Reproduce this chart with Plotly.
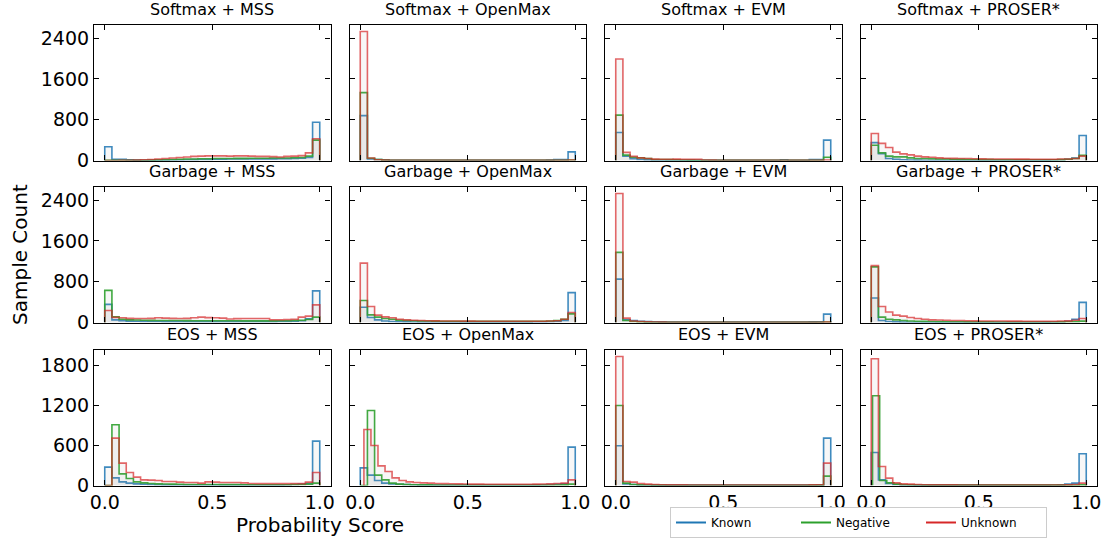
import numpy as np
import plotly.graph_objects as go

# ---------------- data (counts per bin, 30 bins over [0,1]) ----------------
PANEL_TITLES = ["Softmax + MSS", "Softmax + OpenMax", "Softmax + EVM", "Softmax + PROSER*",
                "Garbage + MSS", "Garbage + OpenMax", "Garbage + EVM", "Garbage + PROSER*",
                "EOS + MSS", "EOS + OpenMax", "EOS + EVM", "EOS + PROSER*"]
SERIES = ["Known", "Negative", "Unknown"]

SOFTMAX_MSS_KNOWN = [270, 25, 25, 15, 8, 5, 5, 6, 8, 10, 12, 15, 18, 20, 22, 25, 25, 28, 30, 30, 30, 30, 32, 32, 35, 35, 40, 45, 60, 750]
SOFTMAX_MSS_NEGATIVE = [5, 3, 3, 3, 3, 5, 8, 12, 15, 20, 25, 30, 30, 35, 35, 38, 40, 40, 42, 42, 45, 45, 45, 48, 50, 50, 55, 60, 85, 400]
SOFTMAX_MSS_UNKNOWN = [0, 0, 2, 5, 8, 15, 20, 30, 40, 50, 60, 70, 80, 85, 90, 90, 90, 85, 90, 90, 85, 80, 80, 75, 70, 80, 85, 95, 150, 425]

SOFTMAX_OPENMAX_KNOWN = [880, 30, 20, 15, 5, 3, 2, 2, 2, 2, 2, 2, 2, 2, 2, 2, 2, 2, 2, 2, 2, 3, 3, 3, 4, 5, 8, 20, 20, 170]
SOFTMAX_OPENMAX_NEGATIVE = [1330, 45, 20, 8, 5, 3, 2, 2, 2, 2, 2, 2, 2, 2, 2, 2, 2, 2, 2, 2, 2, 2, 2, 2, 2, 2, 2, 3, 3, 10]
SOFTMAX_OPENMAX_UNKNOWN = [2530, 50, 15, 8, 5, 3, 2, 2, 2, 2, 2, 2, 2, 2, 2, 2, 2, 2, 2, 2, 2, 2, 2, 2, 2, 2, 2, 3, 3, 10]

SOFTMAX_EVM_KNOWN = [550, 85, 35, 20, 12, 8, 6, 5, 4, 3, 3, 3, 3, 3, 3, 3, 3, 3, 3, 3, 3, 3, 3, 15, 5, 3, 3, 20, 20, 400]
SOFTMAX_EVM_NEGATIVE = [890, 105, 65, 52, 40, 20, 20, 18, 15, 10, 8, 6, 5, 4, 4, 3, 3, 3, 3, 3, 3, 3, 3, 3, 3, 3, 3, 5, 5, 65]
SOFTMAX_EVM_UNKNOWN = [1990, 160, 80, 52, 40, 26, 25, 25, 26, 25, 25, 25, 10, 8, 6, 5, 5, 5, 5, 5, 5, 5, 5, 5, 5, 5, 5, 5, 5, 10]

SOFTMAX_PROSER_KNOWN = [350, 135, 40, 25, 15, 10, 8, 6, 5, 5, 5, 5, 5, 5, 5, 5, 5, 5, 5, 5, 5, 5, 5, 5, 8, 10, 15, 25, 50, 490]
SOFTMAX_PROSER_NEGATIVE = [300, 150, 85, 72, 72, 52, 40, 40, 33, 30, 28, 25, 22, 20, 20, 18, 18, 16, 16, 15, 15, 15, 15, 15, 15, 15, 18, 25, 40, 100]
SOFTMAX_PROSER_UNKNOWN = [530, 335, 255, 165, 130, 110, 85, 72, 65, 52, 45, 42, 40, 38, 35, 32, 30, 30, 28, 28, 26, 26, 25, 25, 25, 25, 28, 30, 40, 85]

GARBAGE_MSS_KNOWN = [355, 52, 33, 26, 24, 22, 20, 20, 18, 18, 18, 18, 18, 18, 18, 18, 18, 18, 18, 18, 18, 18, 18, 18, 20, 22, 25, 35, 72, 620]
GARBAGE_MSS_NEGATIVE = [630, 110, 65, 52, 48, 45, 42, 40, 40, 38, 38, 36, 35, 35, 35, 34, 34, 33, 33, 32, 32, 32, 32, 32, 33, 35, 38, 45, 60, 105]
GARBAGE_MSS_UNKNOWN = [235, 100, 92, 80, 78, 78, 80, 92, 85, 80, 78, 80, 92, 105, 95, 92, 85, 70, 75, 78, 78, 78, 78, 55, 55, 60, 65, 105, 125, 345]

GARBAGE_OPENMAX_KNOWN = [300, 98, 52, 30, 20, 15, 12, 10, 8, 8, 8, 8, 8, 8, 8, 8, 8, 8, 8, 8, 8, 8, 8, 8, 10, 12, 15, 20, 40, 585]
GARBAGE_OPENMAX_NEGATIVE = [430, 150, 105, 78, 65, 45, 40, 35, 30, 28, 26, 25, 24, 24, 23, 22, 22, 22, 22, 22, 22, 22, 22, 22, 24, 25, 30, 40, 65, 170]
GARBAGE_OPENMAX_UNKNOWN = [1165, 315, 145, 110, 92, 65, 52, 45, 40, 35, 32, 30, 28, 28, 26, 26, 25, 25, 25, 25, 25, 25, 25, 25, 25, 25, 28, 35, 65, 195]

GARBAGE_EVM_KNOWN = [850, 52, 40, 25, 18, 15, 12, 10, 10, 10, 10, 10, 10, 10, 10, 10, 10, 10, 10, 10, 10, 10, 10, 10, 10, 10, 10, 12, 15, 165]
GARBAGE_EVM_NEGATIVE = [1375, 40, 20, 12, 8, 6, 5, 5, 4, 4, 4, 4, 4, 4, 4, 4, 4, 4, 4, 4, 4, 4, 4, 4, 4, 4, 4, 4, 5, 10]
GARBAGE_EVM_UNKNOWN = [2530, 85, 30, 20, 15, 10, 8, 6, 5, 5, 5, 5, 5, 5, 5, 5, 5, 5, 5, 5, 5, 5, 5, 5, 5, 5, 5, 5, 5, 8]

GARBAGE_PROSER_KNOWN = [480, 40, 20, 12, 8, 6, 5, 5, 4, 4, 4, 4, 4, 4, 4, 4, 4, 4, 4, 4, 4, 4, 5, 6, 8, 10, 15, 25, 65, 395]
GARBAGE_PROSER_NEGATIVE = [1090, 105, 65, 52, 40, 30, 25, 22, 20, 18, 16, 15, 14, 13, 12, 12, 12, 11, 11, 11, 10, 10, 10, 10, 10, 10, 12, 14, 18, 26]
GARBAGE_PROSER_UNKNOWN = [1115, 315, 205, 145, 125, 98, 78, 65, 52, 48, 45, 40, 38, 35, 32, 30, 30, 28, 28, 26, 26, 25, 25, 25, 25, 25, 28, 32, 45, 78]

EOS_MSS_KNOWN = [275, 115, 55, 35, 25, 20, 15, 12, 10, 10, 10, 10, 10, 10, 10, 10, 10, 10, 10, 10, 10, 10, 10, 10, 10, 12, 15, 20, 30, 665]
EOS_MSS_NEGATIVE = [0, 910, 175, 105, 55, 40, 30, 25, 22, 20, 18, 16, 15, 15, 14, 14, 13, 13, 13, 12, 12, 12, 12, 12, 12, 12, 14, 16, 20, 35]
EOS_MSS_UNKNOWN = [0, 710, 335, 195, 125, 85, 80, 75, 60, 60, 50, 45, 45, 35, 55, 50, 45, 45, 45, 40, 30, 28, 28, 28, 28, 28, 28, 28, 50, 195]

EOS_OPENMAX_KNOWN = [265, 155, 75, 35, 25, 18, 15, 12, 10, 10, 8, 8, 8, 8, 8, 8, 8, 8, 8, 8, 8, 8, 8, 8, 10, 12, 15, 18, 25, 575]
EOS_OPENMAX_NEGATIVE = [0, 1125, 155, 85, 35, 20, 15, 12, 10, 10, 8, 8, 8, 8, 8, 8, 8, 8, 8, 8, 8, 8, 8, 8, 8, 8, 8, 8, 10, 20]
EOS_OPENMAX_UNKNOWN = [840, 600, 295, 210, 115, 75, 55, 45, 40, 35, 30, 28, 26, 24, 22, 20, 20, 18, 18, 18, 18, 18, 18, 18, 20, 22, 25, 30, 35, 85]

EOS_EVM_KNOWN = [595, 25, 15, 10, 8, 6, 5, 5, 5, 5, 5, 5, 5, 5, 5, 5, 5, 5, 5, 5, 5, 5, 5, 5, 5, 5, 5, 8, 10, 710]
EOS_EVM_NEGATIVE = [1200, 35, 15, 10, 8, 6, 5, 4, 4, 4, 4, 4, 4, 4, 4, 4, 4, 4, 4, 4, 4, 4, 4, 4, 4, 4, 4, 5, 6, 140]
EOS_EVM_UNKNOWN = [1935, 60, 50, 30, 20, 15, 12, 10, 10, 10, 8, 8, 8, 8, 8, 8, 8, 8, 8, 8, 8, 8, 8, 8, 8, 8, 8, 10, 12, 335]

EOS_PROSER_KNOWN = [495, 85, 30, 15, 10, 8, 6, 5, 5, 5, 5, 5, 5, 5, 5, 5, 5, 5, 5, 5, 5, 5, 5, 5, 6, 8, 10, 20, 35, 475]
EOS_PROSER_NEGATIVE = [1345, 75, 40, 20, 12, 10, 8, 6, 5, 5, 5, 5, 5, 5, 5, 5, 5, 5, 5, 5, 5, 5, 5, 5, 5, 5, 5, 5, 5, 10]
EOS_PROSER_UNKNOWN = [1900, 285, 110, 40, 25, 20, 15, 12, 10, 10, 10, 10, 8, 8, 8, 8, 8, 8, 8, 8, 8, 8, 8, 8, 8, 8, 8, 10, 15, 35]

# lowest score of a series (histogram range starts there; default 0.0)
BIN_LO = {(9, "Unknown"): 0.017, (11, "Negative"): 0.006}

PANELS = [
    (SOFTMAX_MSS_KNOWN, SOFTMAX_MSS_NEGATIVE, SOFTMAX_MSS_UNKNOWN),
    (SOFTMAX_OPENMAX_KNOWN, SOFTMAX_OPENMAX_NEGATIVE, SOFTMAX_OPENMAX_UNKNOWN),
    (SOFTMAX_EVM_KNOWN, SOFTMAX_EVM_NEGATIVE, SOFTMAX_EVM_UNKNOWN),
    (SOFTMAX_PROSER_KNOWN, SOFTMAX_PROSER_NEGATIVE, SOFTMAX_PROSER_UNKNOWN),
    (GARBAGE_MSS_KNOWN, GARBAGE_MSS_NEGATIVE, GARBAGE_MSS_UNKNOWN),
    (GARBAGE_OPENMAX_KNOWN, GARBAGE_OPENMAX_NEGATIVE, GARBAGE_OPENMAX_UNKNOWN),
    (GARBAGE_EVM_KNOWN, GARBAGE_EVM_NEGATIVE, GARBAGE_EVM_UNKNOWN),
    (GARBAGE_PROSER_KNOWN, GARBAGE_PROSER_NEGATIVE, GARBAGE_PROSER_UNKNOWN),
    (EOS_MSS_KNOWN, EOS_MSS_NEGATIVE, EOS_MSS_UNKNOWN),
    (EOS_OPENMAX_KNOWN, EOS_OPENMAX_NEGATIVE, EOS_OPENMAX_UNKNOWN),
    (EOS_EVM_KNOWN, EOS_EVM_NEGATIVE, EOS_EVM_UNKNOWN),
    (EOS_PROSER_KNOWN, EOS_PROSER_NEGATIVE, EOS_PROSER_UNKNOWN),
]

ROW_YTICKS = [[0, 800, 1600, 2400], [0, 800, 1600, 2400], [0, 600, 1200, 1800]]
XTICKS = [0.0, 0.5, 1.0]
XTICK_LABELS = ["0.0", "0.5", "1.0"]

# ---------------- style ----------------
W, H = 1108, 541
FONT = "DejaVu Sans"
LINE_COLORS = {"Known": "rgba(31,119,180,0.85)",
               "Negative": "rgba(44,160,44,0.9)",
               "Unknown": "rgba(214,39,40,0.7)"}
LEGEND_COLORS = {"Known": "#1f77b4", "Negative": "#2ca02c", "Unknown": "#d62728"}
FILL = "rgba(140,140,140,0.07)"

COL_LEFT = [94, 349.5, 605, 860.5]
COL_W = 236.5
ROW_TOP = [25, 187, 350]
ROW_H = 135.5

fig = go.Figure()
layout = {}

for p, counts in enumerate(PANELS):
    r, c = divmod(p, 4)
    ax = p + 1
    xname = "x" if ax == 1 else f"x{ax}"
    yname = "y" if ax == 1 else f"y{ax}"
    for name, cnt in zip(SERIES, counts):
        cnt = np.asarray(cnt, dtype=float)
        lo = BIN_LO.get((p, name), 0.0)
        edges = np.linspace(lo, 1.0, len(cnt) + 1)
        xs = np.concatenate([[edges[0]], edges[:-1], [edges[-1], edges[-1]]])
        ys = np.concatenate([[0], cnt, [cnt[-1], 0]])
        fig.add_trace(go.Scatter(
            x=xs, y=ys, mode="lines", line=dict(shape="hv", color=LINE_COLORS[name], width=1.6),
            fill="tozeroy", fillcolor=FILL, showlegend=False, hoverinfo="skip",
            xaxis=xname, yaxis=yname))

    x0 = COL_LEFT[c] / W
    x1 = (COL_LEFT[c] + COL_W) / W
    y1 = 1 - ROW_TOP[r] / H
    y0 = 1 - (ROW_TOP[r] + ROW_H) / H
    ymax = max(max(v) for pp in PANELS[r * 4:(r + 1) * 4] for v in pp) if r == 2 else \
        max(max(v) for pp in PANELS[0:8] for v in pp)
    common = dict(showline=True, linecolor="black", linewidth=1.1, mirror="allticks",
                  ticks="inside", ticklen=5, tickwidth=1.1, tickcolor="black",
                  showgrid=False, zeroline=False, automargin=False,
                  tickfont=dict(family=FONT, size=19, color="black"))
    layout["xaxis" if ax == 1 else f"xaxis{ax}"] = dict(
        domain=[x0, x1], anchor=yname, range=[-0.05, 1.05],
        tickvals=XTICKS, ticktext=XTICK_LABELS, showticklabels=(r == 2), **common)
    layout["yaxis" if ax == 1 else f"yaxis{ax}"] = dict(
        domain=[y0, y1], anchor=xname, range=[0, ymax * 1.05],
        tickvals=ROW_YTICKS[r], showticklabels=(c == 0), **common)

annotations = []
for p, t in enumerate(PANEL_TITLES):
    r, c = divmod(p, 4)
    annotations.append(dict(text=t, x=(COL_LEFT[c] + COL_W / 2) / W, y=1 - (ROW_TOP[r] - 4) / H,
                            xref="paper", yref="paper", xanchor="center", yanchor="bottom",
                            showarrow=False, font=dict(family=FONT, size=16, color="black")))
annotations.append(dict(text="Sample Count", x=20 / W, y=1 - 255 / H, xref="paper", yref="paper",
                        textangle=-90, showarrow=False, xanchor="center", yanchor="middle",
                        font=dict(family=FONT, size=20, color="black")))
annotations.append(dict(text="Probability Score", x=320 / W, y=1 - 525 / H, xref="paper", yref="paper",
                        showarrow=False, xanchor="center", yanchor="middle",
                        font=dict(family=FONT, size=20, color="black")))

# legend-only traces
for name in SERIES:
    fig.add_trace(go.Scatter(x=[None], y=[None], mode="lines", name=name,
                             line=dict(color=LEGEND_COLORS[name], width=2), showlegend=True))

fig.update_layout(
    template="none",
    width=W, height=H, margin=dict(l=0, r=0, t=0, b=0, autoexpand=False),
    paper_bgcolor="white", plot_bgcolor="white",
    annotations=annotations,
    legend=dict(orientation="h", x=670 / W, y=1 - 538 / H, xanchor="left", yanchor="bottom",
                bordercolor="#cccccc", borderwidth=1, bgcolor="white",
                font=dict(family=FONT, size=12, color="black"),
                itemwidth=30, entrywidth=80, tracegroupgap=0),
    **layout)

fig.write_html("out.html")
